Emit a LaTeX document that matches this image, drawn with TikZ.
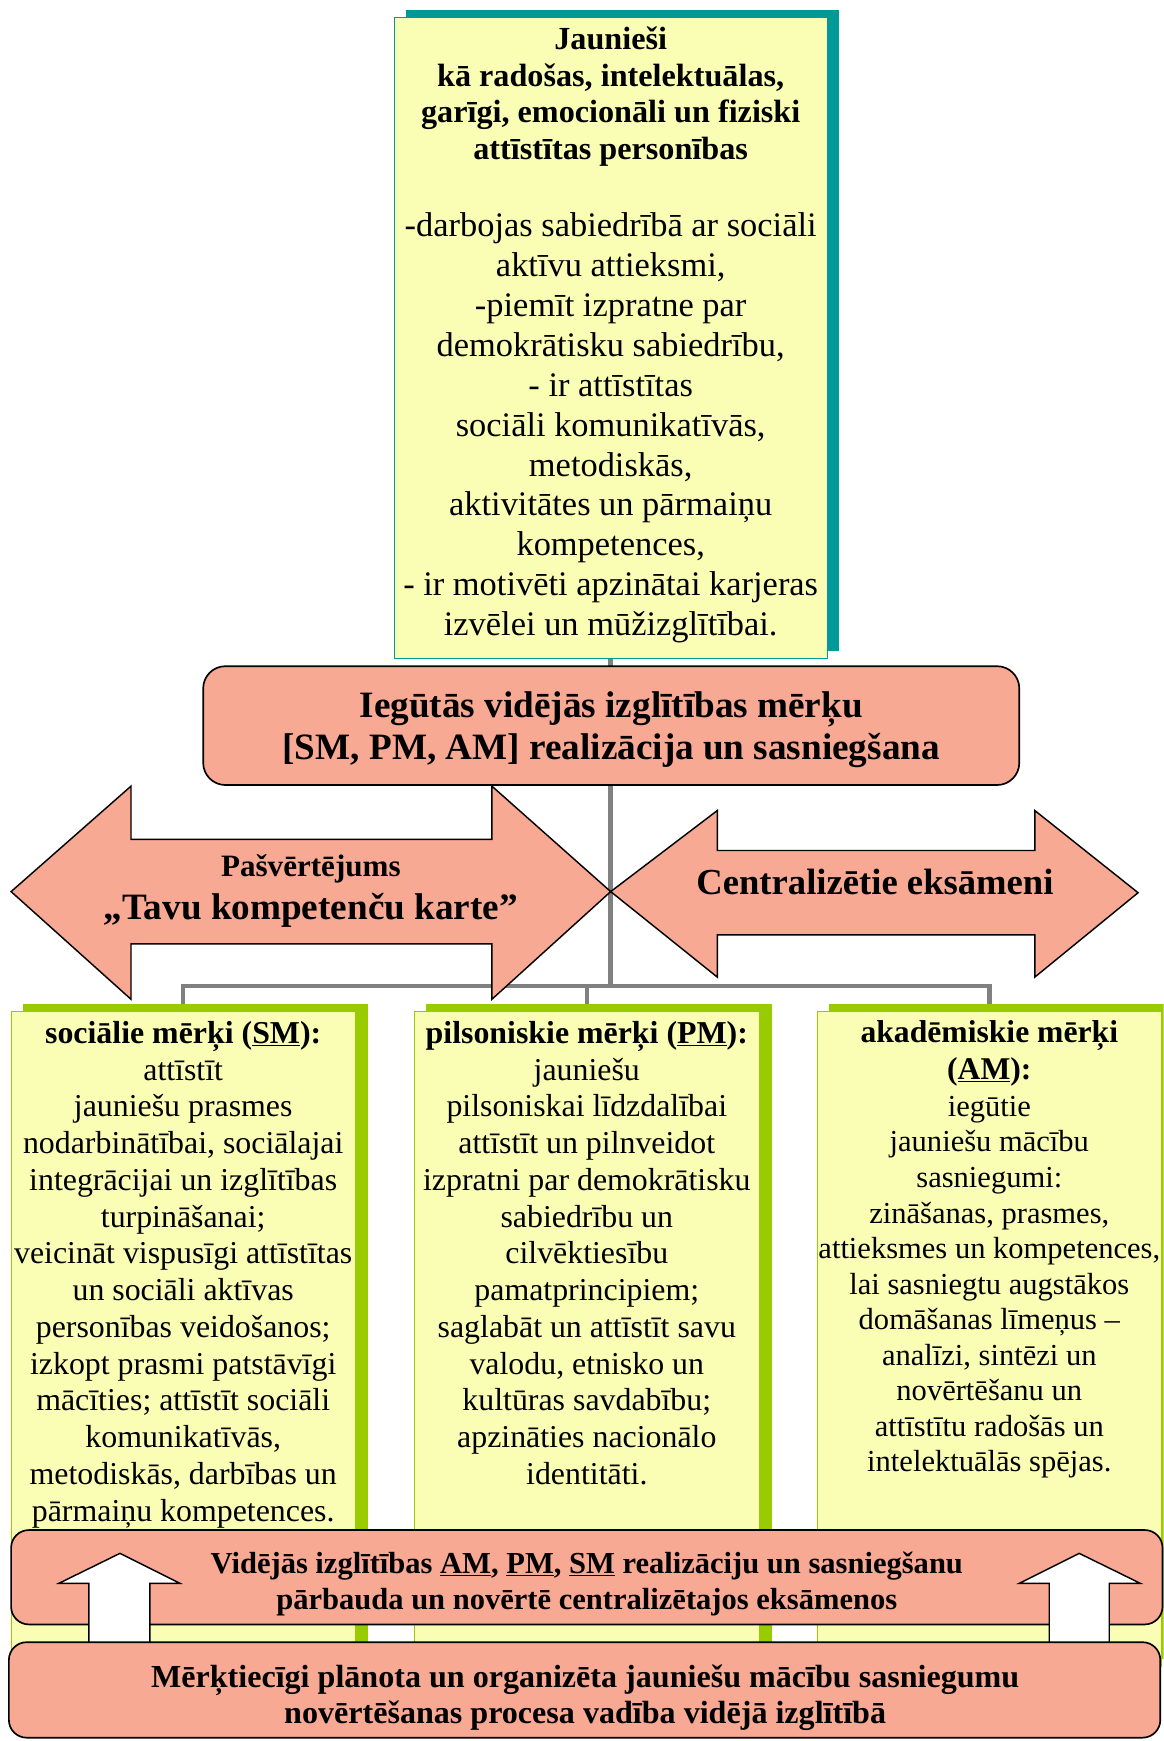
\documentclass[tikz,border=0pt]{standalone}
\usepackage{fontspec}
\setmainfont{Liberation Serif}
\usetikzlibrary{shadows,calc}
\definecolor{ylw}{HTML}{FAFEB4}
\definecolor{tealc}{HTML}{009999}
\definecolor{grn}{HTML}{99CC00}
\definecolor{salmon}{HTML}{F8A994}
\definecolor{conngray}{HTML}{808080}
\begin{document}
\begin{tikzpicture}[x=1pt,y=-1pt,
  conn/.style={draw=conngray,line width=4pt},
  topbox/.style={rectangle,draw=tealc,line width=1.2pt,fill=ylw,inner sep=0pt,
     drop shadow={shadow xshift=11pt,shadow yshift=7pt,fill=tealc,opacity=1}},
  goalbox/.style={rectangle,draw=grn,line width=1pt,fill=ylw,inner sep=0pt,
     drop shadow={shadow xshift=11pt,shadow yshift=7pt,fill=grn,opacity=1}},
  salmonbox/.style={rectangle,rounded corners=16pt,draw=black,line width=1.5pt,fill=salmon,align=center,inner sep=0pt},
  blockarrow/.style={draw=black,line width=1.3pt,fill=salmon,line join=miter},
  uparrow/.style={draw=black,line width=1.3pt,fill=white,line join=miter},
  txt/.style={align=center,inner sep=0pt,text=black},
]
\clip (0,0) rectangle (1048,1568);
\fill[white] (0,0) rectangle (1048,1568);

% boxes used by connectors
\coordinate (bar) at (550,888);

% connectors (drawn first, boxes cover their ends)
\node[inner sep=0pt,minimum width=390pt,minimum height=577pt] (topghost) at (550,304.5) {};
\node[inner sep=0pt,minimum width=310pt,minimum height=590pt] (smghost) at (165,1206) {};
\node[inner sep=0pt,minimum width=311pt,minimum height=590pt] (pmghost) at (528.5,1206) {};
\node[inner sep=0pt,minimum width=310pt,minimum height=590pt] (amghost) at (891,1206) {};
\draw[conn] (topghost.south) -- (bar);
\draw[conn] (smghost.north) |- (amghost.north |- bar) -- (amghost.north);
\draw[conn] (pmghost.north) -- (pmghost.north |- bar);

% top box
\node[topbox,minimum width=390pt,minimum height=577pt] (top) at (550,304.5) {};
\node[txt,anchor=north,font=\bfseries\fontsize{29}{33}\selectfont] (topbold) at (550,24)
  {Jaunieši\\kā radošas, intelektuālas,\\garīgi, emocionāli un fiziski\\attīstītas personības};
\node[txt,anchor=north,font=\fontsize{31}{36}\selectfont] (topreg) at (550,191)
  {-darbojas sabiedrībā ar sociāli\\aktīvu attieksmi,\\-piemīt izpratne par\\demokrātisku sabiedrību,\\- ir attīstītas\\sociāli komunikatīvās,\\metodiskās,\\aktivitātes un pārmaiņu\\kompetences,\\- ir motivēti apzinātai karjeras\\izvēlei un mūžizglītībai.};

% middle box
\node[salmonbox,minimum width=735pt,minimum height=107pt,rounded corners=20pt] (goal) at (550.5,653.5) {};
\node[txt,font=\bfseries\fontsize{33.5}{38}\selectfont] (goaltext) at (550.5,657)
  {Iegūtās vidējās izglītības mērķu\\{[}SM, PM, AM{]} realizācija un sasniegšana};

% double arrows
\draw[blockarrow] (10,803) -- (118,708) -- (118,756) -- (443,756) -- (443,708) -- (550,803)
  -- (443,900) -- (443,850) -- (118,850) -- (118,900) -- cycle;
\draw[blockarrow] (550,803) -- (646,730) -- (646,766) -- (932,766) -- (932,730) -- (1025,804)
  -- (932,880) -- (932,842) -- (646,842) -- (646,880) -- cycle;
\node[txt,font=\bfseries\fontsize{33.5}{38}\selectfont] (selfeval) at (280,802.5)
  {{\fontsize{28}{32}\selectfont Pašvērtējums}\\„Tavu kompetenču karte”};
\node[txt,font=\bfseries\fontsize{33}{38}\selectfont] (cexam) at (788,794) {Centralizētie eksāmeni};

% goal boxes
\node[goalbox,minimum width=310pt,minimum height=590pt] (sm) at (165,1206) {};
\node[goalbox,minimum width=311pt,minimum height=590pt] (pm) at (528.5,1206) {};
\node[goalbox,minimum width=310pt,minimum height=590pt] (am) at (891,1206) {};

\node[txt,anchor=north,font=\fontsize{28.7}{33.1}\selectfont] (smtext) at (165,919.5)
  {\textbf{sociālie mērķi (\underline{SM}):}\\attīstīt\\jauniešu prasmes\\nodarbinātībai, sociālajai\\integrācijai un izglītības\\turpināšanai;\\veicināt vispusīgi attīstītas\\un sociāli aktīvas\\personības veidošanos;\\izkopt prasmi patstāvīgi\\mācīties; attīstīt sociāli\\komunikatīvās,\\metodiskās, darbības un\\pārmaiņu kompetences.};
\node[txt,anchor=north,font=\fontsize{28.7}{33.1}\selectfont] (pmtext) at (528.5,919.5)
  {\textbf{pilsoniskie mērķi (\underline{PM}):}\\jauniešu\\pilsoniskai līdzdalībai\\attīstīt un pilnveidot\\izpratni par demokrātisku\\sabiedrību un\\cilvēktiesību\\pamatprincipiem;\\saglabāt un attīstīt savu\\valodu, etnisko un\\kultūras savdabību;\\apzināties nacionālo\\identitāti.};
\node[txt,anchor=north,font=\fontsize{27.5}{32}\selectfont] (amtext) at (891,919)
  {{\fontsize{28.5}{32}\selectfont\bfseries akadēmiskie mērķi}\\[1.5pt]{\fontsize{28.5}{32}\selectfont\bfseries (\underline{AM}):}\\[1pt]iegūtie\\jauniešu mācību\\sasniegumi:\\zināšanas, prasmes,\\attieksmes un kompetences,\\lai sasniegtu augstākos\\domāšanas līmeņus –\\analīzi, sintēzi un\\novērtēšanu un\\attīstītu radošās un\\intelektuālās spējas.};

% bottom boxes and white arrows
\node[salmonbox,minimum width=1037pt,minimum height=85pt] (check) at (528.5,1420.5) {};
\node[txt,font=\bfseries\fontsize{27.5}{32}\selectfont] (checktext) at (528.5,1426.5)
  {Vidējās izglītības \underline{AM}, \underline{PM}, \underline{SM} realizāciju un sasniegšanu\\pārbauda un novērtē centralizētajos eksāmenos};
\draw[uparrow] (80,1480) -- (80,1426) -- (53,1426) -- (108,1399) -- (162,1426) -- (135,1426) -- (135,1480) -- cycle;
\draw[uparrow] (945,1480) -- (945,1426) -- (918,1426) -- (972,1399) -- (1027,1426) -- (999,1426) -- (999,1480) -- cycle;
\node[salmonbox,minimum width=1037pt,minimum height=86pt] (process) at (526.5,1522) {};
\node[txt,font=\bfseries\fontsize{28.9}{33}\selectfont] (processtext) at (527,1529)
  {Mērķtiecīgi plānota un organizēta jauniešu mācību sasniegumu\\novērtēšanas procesa vadība vidējā izglītībā};
\end{tikzpicture}
\end{document}
